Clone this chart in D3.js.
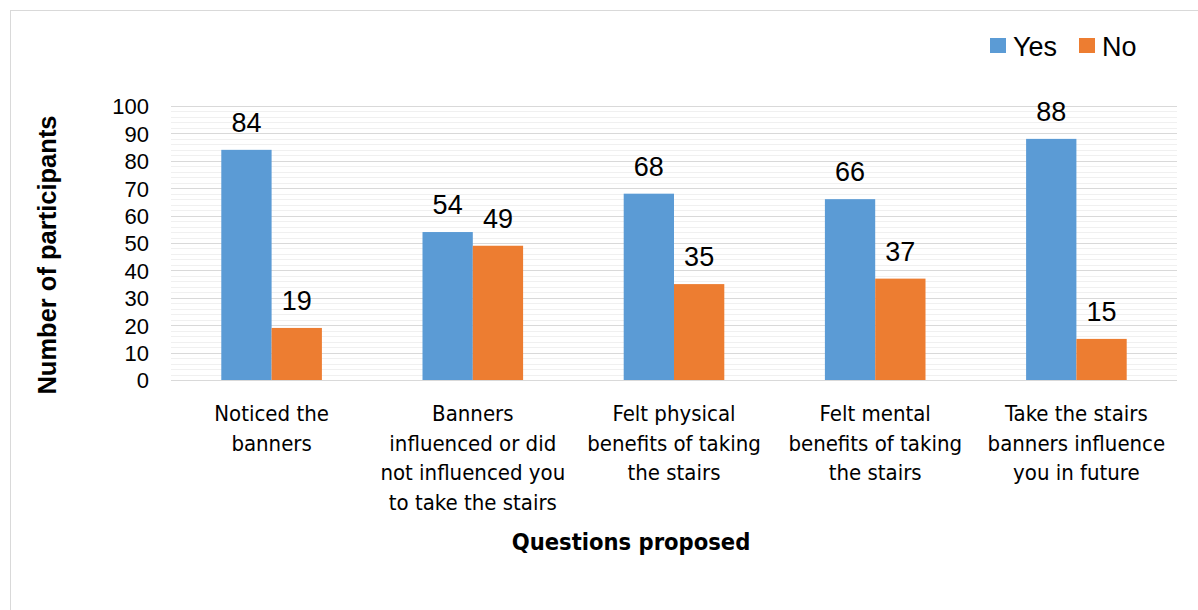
<!DOCTYPE html>
<html>
<head>
<meta charset="utf-8">
<script src="https://cdn.jsdelivr.net/npm/d3@7"></script>
<style>
  html, body { margin: 0; padding: 0; background: #fff; }
  svg { display: block; }
</style>
</head>
<body>
<svg id="chart" width="1198" height="610"></svg>
<script>
// Survey answers per question
const categories = [
  ["Noticed the", "banners"],
  ["Banners", "influenced or did", "not influenced you", "to take the stairs"],
  ["Felt physical", "benefits of taking", "the stairs"],
  ["Felt mental", "benefits of taking", "the stairs"],
  ["Take the stairs", "banners influence", "you in future"]
];
const yesValues = [84, 54, 68, 66, 88];
const noValues = [19, 49, 35, 37, 15];
const seriesNames = ["Yes", "No"];
const yTicks = [0, 10, 20, 30, 40, 50, 60, 70, 80, 90, 100];

const colors = { Yes: "#5b9bd5", No: "#ed7d31" };
const svg = d3.select("#chart");
const W = 1198, H = 610;

// Outer chart frame
svg.append("rect")
  .attr("x", 10.5).attr("y", 10.5)
  .attr("width", W + 20).attr("height", H + 20)
  .attr("fill", "#fff").attr("stroke", "#d9d9d9").attr("stroke-width", 1);

const plot = { left: 171, right: 1177, top: 106, bottom: 380 };

const x0 = d3.scaleBand()
  .domain(d3.range(categories.length))
  .range([plot.left, plot.right])
  .paddingInner(0).paddingOuter(0);

// Two bars per group, gap width equal to the two bars together
const x1 = d3.scaleBand()
  .domain(seriesNames)
  .range([0, x0.bandwidth()])
  .paddingInner(0).paddingOuter(1);

const y = d3.scaleLinear().domain([0, 100]).range([plot.bottom, plot.top]);

// Minor gridlines every 2 units
const g = svg.append("g");
g.selectAll("line.minor")
  .data(d3.range(0, 101, 2).filter(v => v % 10 !== 0))
  .join("line")
  .attr("class", "minor")
  .attr("x1", plot.left).attr("x2", plot.right)
  .attr("y1", d => Math.round(y(d)) + 0.5).attr("y2", d => Math.round(y(d)) + 0.5)
  .attr("stroke", "#f0f0f0").attr("stroke-width", 1);

// Major gridlines
g.selectAll("line.major")
  .data(yTicks)
  .join("line")
  .attr("class", "major")
  .attr("x1", plot.left).attr("x2", plot.right)
  .attr("y1", d => Math.round(y(d)) + 0.5).attr("y2", d => Math.round(y(d)) + 0.5)
  .attr("stroke", "#d9d9d9").attr("stroke-width", 1);

// Y axis tick labels
const yAxis = d3.axisLeft(y).tickValues(yTicks).tickSize(0).tickPadding(0);
const yg = svg.append("g")
  .attr("transform", `translate(${plot.left - 22},0)`)
  .call(yAxis);
yg.select(".domain").remove();
yg.selectAll("text")
  .attr("font-family", "'Liberation Sans', Arial, sans-serif")
  .attr("font-size", 22)
  .attr("fill", "#000")
  .attr("dy", "0.36em");

// Bars
const rows = categories.map((c, i) => ({ i, Yes: yesValues[i], No: noValues[i] }));
const groups = svg.append("g").selectAll("g")
  .data(rows)
  .join("g")
  .attr("transform", d => `translate(${x0(d.i)},0)`);

groups.selectAll("rect")
  .data(d => seriesNames.map(k => ({ key: k, value: d[k] })))
  .join("rect")
  .attr("x", d => x1(d.key))
  .attr("width", x1.bandwidth())
  .attr("y", d => y(d.value))
  .attr("height", d => y(0) - y(d.value))
  .attr("fill", d => colors[d.key]);

// Value labels
groups.selectAll("text")
  .data(d => seriesNames.map(k => ({ key: k, value: d[k] })))
  .join("text")
  .attr("x", d => x1(d.key) + x1.bandwidth() / 2)
  .attr("y", d => y(d.value) - 18)
  .attr("text-anchor", "middle")
  .attr("font-family", "'Liberation Sans', Arial, sans-serif")
  .attr("font-size", 27)
  .attr("fill", "#000")
  .text(d => d.value);

// Category labels
const catG = svg.append("g").selectAll("text")
  .data(categories)
  .join("text")
  .attr("x", (d, i) => x0(i) + x0.bandwidth() / 2)
  .attr("y", 421)
  .attr("text-anchor", "middle")
  .attr("font-family", "'DejaVu Sans Condensed', 'DejaVu Sans', sans-serif")
  .attr("font-stretch", "condensed")
  .attr("font-size", 22)
  .attr("fill", "#000");
catG.selectAll("tspan")
  .data(d => d)
  .join("tspan")
  .attr("x", function () { return d3.select(this.parentNode).attr("x"); })
  .attr("dy", (d, j) => j === 0 ? 0 : 29.5)
  .text(d => d);

// Axis titles
svg.append("text")
  .attr("transform", "translate(56,255) rotate(-90)")
  .attr("text-anchor", "middle")
  .attr("font-family", "'Liberation Sans', Arial, sans-serif")
  .attr("font-weight", "bold")
  .attr("font-size", 25.5)
  .attr("fill", "#000")
  .text("Number of participants");

svg.append("text")
  .attr("x", 631).attr("y", 550)
  .attr("text-anchor", "middle")
  .attr("font-family", "'DejaVu Sans Condensed', 'DejaVu Sans', sans-serif")
  .attr("font-stretch", "condensed")
  .attr("font-weight", "bold")
  .attr("font-size", 23.5)
  .attr("fill", "#000")
  .text("Questions proposed");

// Legend
const legend = svg.append("g").selectAll("g")
  .data(seriesNames)
  .join("g")
  .attr("transform", (d, i) => `translate(${[990, 1079][i]},38)`);
legend.append("rect")
  .attr("width", 16).attr("height", 15)
  .attr("fill", d => colors[d]);
legend.append("text")
  .attr("x", 23).attr("y", 18)
  .attr("font-family", "'Liberation Sans', Arial, sans-serif")
  .attr("font-size", 27)
  .attr("fill", "#000")
  .text(d => d);
</script>
</body>
</html>
